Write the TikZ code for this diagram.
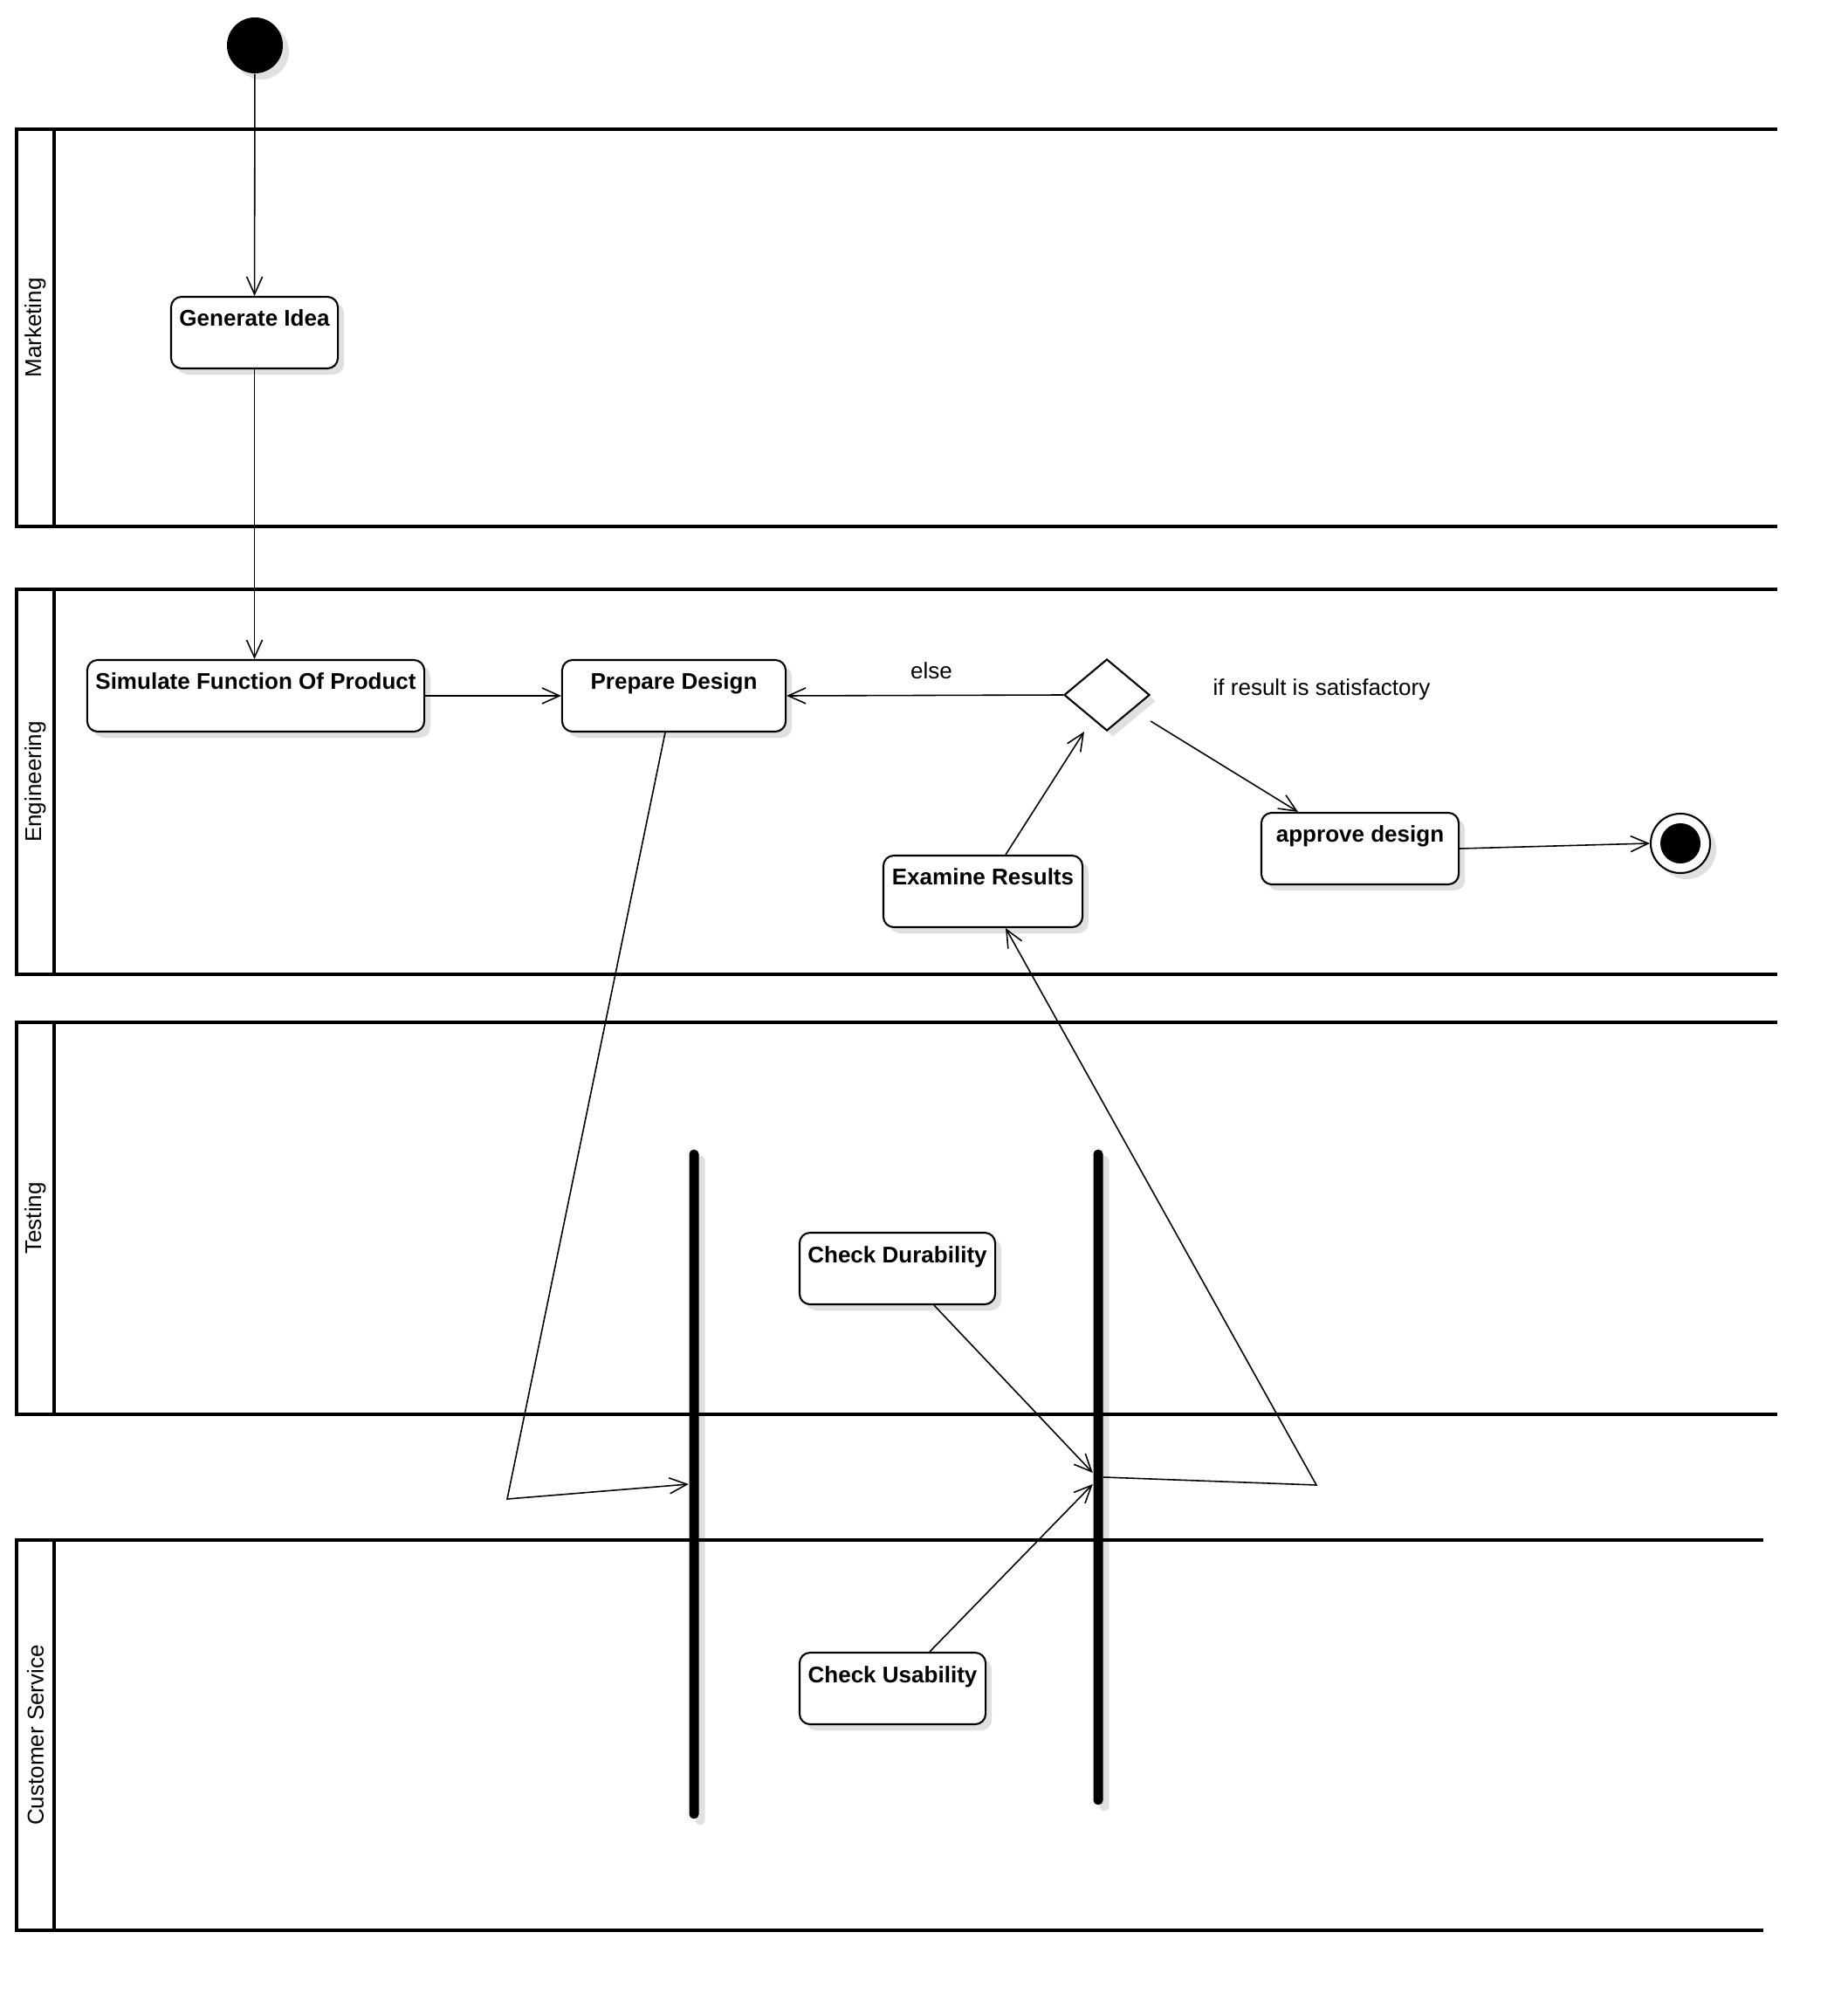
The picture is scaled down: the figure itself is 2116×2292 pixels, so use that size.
\documentclass[tikz,border=0pt]{standalone}
\usepackage{fontspec}
\setmainfont{Liberation Sans}
\usepackage{tikz}
\usetikzlibrary{arrows.meta, positioning, shapes.geometric, shadows}

\begin{document}
\begin{tikzpicture}[>={Straight Barb[length=0.2cm,width=0.18cm]}, x=0.01cm, y=-0.01cm,
    font=\fontsize{7.4}{8.9}\selectfont,
    lane/.style={line width=1pt},
    lanelabel/.style={rotate=90, inner sep=0pt},
    shade/.style={drop shadow={shadow xshift=0.07cm, shadow yshift=-0.07cm, fill=black!12, opacity=1}},
    actbox/.style={draw, fill=white, line width=0.6pt, rounded corners=0.12cm, font=\fontsize{7.4}{8.9}\selectfont\bfseries,
        inner xsep=0.05cm, inner ysep=0pt, text height=0.34cm, text depth=0.48cm, shade},
    bar/.style={fill=black, rounded corners=0.05cm, minimum width=0.11cm, inner sep=0pt, shade},
    flow/.style={->, line width=0.45pt}]
    \useasboundingbox (0,0) rectangle (2116,2292);

    % Fork and join bars (lane lines go over them)
    \node[bar, minimum height=7.66cm] (fork) at (795,1700) {};
    \node[bar, minimum height=7.50cm] (join) at (1258,1692) {};

    % Swimlanes
    \foreach \ltop/\lbot/\lend/\lname [count=\i] in {148/603/2036/Marketing, 675/1116/2036/Engineering,
        1171/1620/2036/Testing, 1764/2211/2020/Customer Service} {
        \draw[lane, fill=white] (19,\ltop) rectangle (62,\lbot);
        \draw[lane] (19,\ltop) -- (\lend,\ltop);
        \draw[lane] (19,\lbot) -- (\lend,\lbot);
        \node[lanelabel] (lane\i) at (40.5,{(\ltop+\lbot)/2}) {\lname};
    }

    % Initial and final nodes
    \node[circle, fill=black, minimum size=0.64cm, inner sep=0pt, shade] (start) at (292,52) {};
    \node[circle, draw, fill=white, line width=0.6pt, minimum size=0.68cm, inner sep=0pt, shade] (final) at (1925,966) {};
    \node[circle, fill=black, minimum size=0.46cm, inner sep=0pt] (finaldot) at (final) {};

    % Activities
    \node[actbox, minimum width=1.91cm] (gen) at (291.5,381) {Generate Idea};
    \node[actbox, minimum width=3.86cm] (sim) at (293,797) {Simulate Function Of Product};
    \node[actbox, minimum width=2.56cm] (prep) at (772,797) {Prepare Design};
    \node[actbox, minimum width=2.28cm] (exam) at (1126,1021) {Examine Results};
    \node[actbox, minimum width=2.26cm] (appr) at (1558,972) {approve design};
    \node[actbox, minimum width=2.24cm] (dur) at (1028,1453) {Check Durability};
    \node[actbox, minimum width=2.13cm] (usab) at (1022.5,1934) {Check Usability};

    % Decision
    \node[diamond, draw, fill=white, line width=0.6pt, minimum width=0.98cm, minimum height=0.82cm, inner sep=0pt, shade] (dec) at (1268,796) {};
    \node (elselbl) at (1067,768) {else};
    \node (satlbl) at (1514,790) {if result is satisfactory};

    \coordinate (bendA) at (581,1717);
    \coordinate (bendB) at (1508,1701);

    % Transitions
    \draw[flow] (start) -- (gen);
    \draw[flow] (gen.south) -- (gen.south |- sim.north);
    \draw[flow] (sim.east) -- (prep.west);
    \draw[flow] (dec.west) -- (prep.east);
    \draw[flow] ([xshift=-0.1cm]prep.south) -- (bendA) -- (fork.west);
    \draw[flow] ([xshift=0.42cm]dur.south) -- ([yshift=0.05cm]join.west);
    \draw[flow] ([xshift=0.425cm]usab.north) -- ([yshift=-0.08cm]join.west);
    \draw[flow] (join.east) -- (bendB) -- ([xshift=0.26cm]exam.south);
    \draw[flow] ([xshift=0.26cm]exam.north) -- ([xshift=-0.26cm]dec.south);
    \draw[flow] ([yshift=-0.3cm]dec.east) -- ([xshift=-0.71cm]appr.north);
    \draw[flow] (appr.east) -- (final.west);
\end{tikzpicture}
\end{document}
